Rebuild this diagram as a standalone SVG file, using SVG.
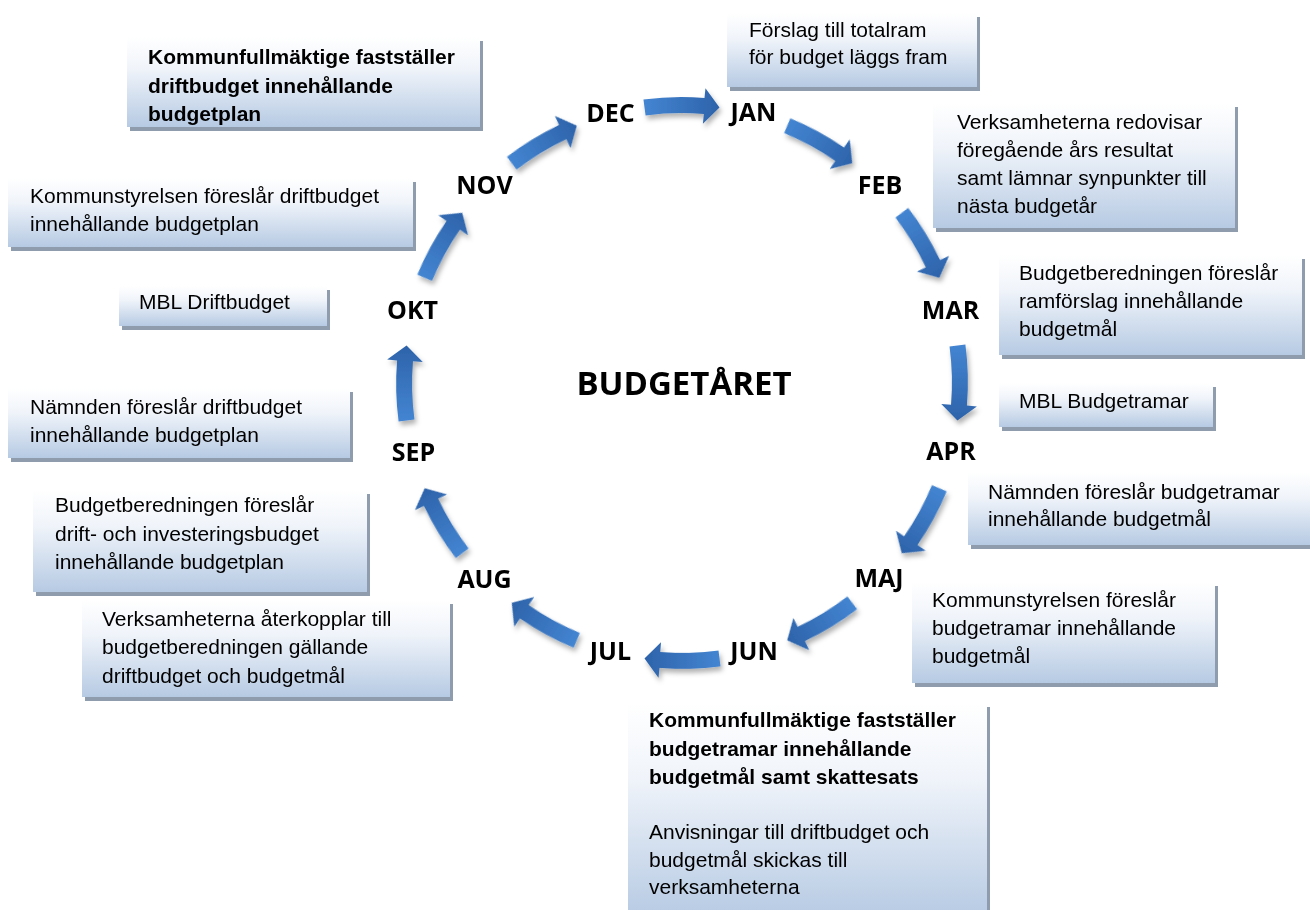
<svg xmlns="http://www.w3.org/2000/svg" xmlns:xlink="http://www.w3.org/1999/xlink" width="1310" height="910" viewBox="0 0 1310 910">
<defs>
<style>
.sh{fill:#8e9cae}
.bx{fill:url(#bg)}
.t{font-family:"Liberation Sans",Arial,sans-serif;font-size:21px;fill:#000}
.tb{font-weight:bold}
.m{font-family:"Open Sans","Liberation Sans",sans-serif;font-weight:700;font-size:25px;text-anchor:middle;fill:#000}
.ttl{font-family:"Open Sans","Liberation Sans",sans-serif;font-weight:700;font-size:33px;text-anchor:middle;fill:#000}
.ar{fill:url(#ag)}
</style>
<linearGradient id="bg" x1="0" y1="0" x2="0" y2="1">
<stop offset="0" stop-color="#ffffff"/>
<stop offset="0.35" stop-color="#f0f4fa"/>
<stop offset="1" stop-color="#b6cae3"/>
</linearGradient>
<linearGradient id="ag" x1="0" y1="0" x2="0" y2="1">
<stop offset="0" stop-color="#4485d2"/>
<stop offset="1" stop-color="#2d63aa"/>
</linearGradient>
<filter id="ds" x="-20%" y="-20%" width="140%" height="140%">
<feDropShadow dx="2" dy="4" stdDeviation="2.5" flood-color="#000" flood-opacity="0.3"/>
</filter>
<path id="arr" class="ar" d="M965.39,344.43 A286,286 0 0 1 966.93,405.49 L976.84,406.47 L957.46,420.49 L941.26,403.90 L951.03,404.86 A270,270 0 0 0 949.54,346.59 Z"/>
</defs>
<rect width="1310" height="910" fill="#fff"/>

<g id="connectors" filter="url(#ds)">
<use xlink:href="#arr" transform="rotate(-90 682 383)"/>
<use xlink:href="#arr" transform="rotate(-60 682 383)"/>
<use xlink:href="#arr" transform="rotate(-30 682 383)"/>
<use xlink:href="#arr"/>
<use xlink:href="#arr" transform="rotate(30 682 383)"/>
<use xlink:href="#arr" transform="rotate(60 682 383)"/>
<use xlink:href="#arr" transform="rotate(90 682 383)"/>
<use xlink:href="#arr" transform="rotate(120 682 383)"/>
<use xlink:href="#arr" transform="rotate(150 682 383)"/>
<use xlink:href="#arr" transform="rotate(180 682 383)"/>
<use xlink:href="#arr" transform="rotate(210 682 383)"/>
<use xlink:href="#arr" transform="rotate(240 682 383)"/>
</g>

<g id="months">
<text id="m-dec" class="m" x="610.5" y="122">DEC</text>
<text id="m-jan" class="m" x="753.5" y="121">JAN</text>
<text id="m-feb" class="m" x="880" y="194">FEB</text>
<text id="m-mar" class="m" x="950.5" y="319">MAR</text>
<text id="m-apr" class="m" x="951" y="460">APR</text>
<text id="m-maj" class="m" x="879" y="587">MAJ</text>
<text id="m-jun" class="m" x="754" y="660">JUN</text>
<text id="m-jul" class="m" x="610.5" y="660">JUL</text>
<text id="m-aug" class="m" x="484.5" y="588">AUG</text>
<text id="m-sep" class="m" x="413.5" y="461">SEP</text>
<text id="m-okt" class="m" x="412.5" y="319">OKT</text>
<text id="m-nov" class="m" x="484.5" y="194">NOV</text>
</g>

<g id="title"><text class="ttl" x="684" y="395">BUDGETÅRET</text></g>

<g id="box-a">
<rect class="sh" x="130" y="41" width="353" height="90"/>
<rect class="bx" x="127" y="37" width="353" height="90"/>
<text class="t tb"><tspan x="148" y="64">Kommunfullmäktige fastställer</tspan><tspan x="148" y="93">driftbudget innehållande</tspan><tspan x="148" y="121">budgetplan</tspan></text>
</g>

<g id="box-b">
<rect class="sh" x="730" y="17" width="250" height="74"/>
<rect class="bx" x="727" y="13" width="250" height="74"/>
<text class="t"><tspan x="749" y="37">Förslag till totalram</tspan><tspan x="749" y="64">för budget läggs fram</tspan></text>
</g>

<g id="box-c">
<rect class="sh" x="936" y="107" width="302" height="125"/>
<rect class="bx" x="933" y="103" width="302" height="125"/>
<text class="t"><tspan x="957" y="129">Verksamheterna redovisar</tspan><tspan x="957" y="157">föregående års resultat</tspan><tspan x="957" y="185">samt lämnar synpunkter till</tspan><tspan x="957" y="213">nästa budgetår</tspan></text>
</g>

<g id="box-d">
<rect class="sh" x="1002" y="259" width="303" height="100"/>
<rect class="bx" x="999" y="255" width="303" height="100"/>
<text class="t"><tspan x="1019" y="280">Budgetberedningen föreslår</tspan><tspan x="1019" y="308">ramförslag innehållande</tspan><tspan x="1019" y="336">budgetmål</tspan></text>
</g>

<g id="box-e">
<rect class="sh" x="1002" y="387" width="214" height="44"/>
<rect class="bx" x="999" y="383" width="214" height="44"/>
<text class="t" x="1019" y="408">MBL Budgetramar</text>
</g>

<g id="box-f">
<rect class="sh" x="971" y="476" width="345" height="73"/>
<rect class="bx" x="968" y="472" width="345" height="73"/>
<text class="t"><tspan x="988" y="499">Nämnden föreslår budgetramar</tspan><tspan x="988" y="526">innehållande budgetmål</tspan></text>
</g>

<g id="box-g">
<rect class="sh" x="915" y="586" width="303" height="101"/>
<rect class="bx" x="912" y="582" width="303" height="101"/>
<text class="t"><tspan x="932" y="607">Kommunstyrelsen föreslår</tspan><tspan x="932" y="635">budgetramar innehållande</tspan><tspan x="932" y="663">budgetmål</tspan></text>
</g>

<g id="box-h">
<rect class="sh" x="631" y="707" width="359" height="215"/>
<rect class="bx" x="628" y="703" width="359" height="215"/>
<text class="t tb"><tspan x="649" y="727">Kommunfullmäktige fastställer</tspan><tspan x="649" y="756">budgetramar innehållande</tspan><tspan x="649" y="784">budgetmål samt skattesats</tspan></text>
<text class="t"><tspan x="649" y="839">Anvisningar till driftbudget och</tspan><tspan x="649" y="867">budgetmål skickas till</tspan><tspan x="649" y="894">verksamheterna</tspan></text>
</g>

<g id="box-i">
<rect class="sh" x="11" y="182" width="405" height="69"/>
<rect class="bx" x="8" y="178" width="405" height="69"/>
<text class="t"><tspan x="30" y="203">Kommunstyrelsen föreslår driftbudget</tspan><tspan x="30" y="231">innehållande budgetplan</tspan></text>
</g>

<g id="box-j">
<rect class="sh" x="122" y="290" width="208" height="40"/>
<rect class="bx" x="119" y="286" width="208" height="40"/>
<text class="t" x="139" y="309">MBL Driftbudget</text>
</g>

<g id="box-k">
<rect class="sh" x="11" y="392" width="342" height="70"/>
<rect class="bx" x="8" y="388" width="342" height="70"/>
<text class="t"><tspan x="30" y="414">Nämnden föreslår driftbudget</tspan><tspan x="30" y="442">innehållande budgetplan</tspan></text>
</g>

<g id="box-l">
<rect class="sh" x="36" y="494" width="334" height="102"/>
<rect class="bx" x="33" y="490" width="334" height="102"/>
<text class="t"><tspan x="55" y="512">Budgetberedningen föreslår</tspan><tspan x="55" y="541">drift- och investeringsbudget</tspan><tspan x="55" y="569">innehållande budgetplan</tspan></text>
</g>

<g id="box-m">
<rect class="sh" x="85" y="604" width="368" height="97"/>
<rect class="bx" x="82" y="600" width="368" height="97"/>
<text class="t"><tspan x="102" y="626">Verksamheterna återkopplar till</tspan><tspan x="102" y="654">budgetberedningen gällande</tspan><tspan x="102" y="683">driftbudget och budgetmål</tspan></text>
</g>
</svg>
